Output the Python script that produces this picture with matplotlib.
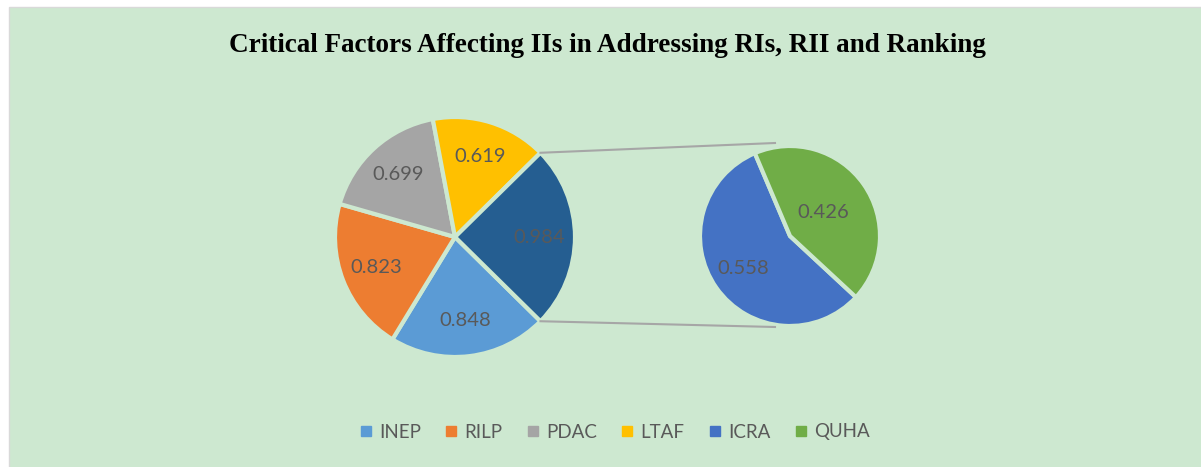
import matplotlib.pyplot as plt
from matplotlib.patches import Rectangle
from matplotlib.lines import Line2D
import numpy as np

# ── Data ──────────────────────────────────────────────────────────────────────
main_labels = ["INEP", "RILP", "PDAC", "LTAF"]
main_values = [0.848, 0.823, 0.699, 0.619]
sub_labels = ["ICRA", "QUHA"]
sub_values = [0.558, 0.426]
other_value = round(sum(sub_values), 3)  # 0.984

title = "Critical Factors Affecting IIs in Addressing RIs, RII and Ranking"

# ── Style ─────────────────────────────────────────────────────────────────────
bg = "#CDE8D0"
text_gray = "#595959"
main_colors = ["#5B9BD5", "#ED7D31", "#A5A5A5", "#FFC000"]
other_color = "#255E91"
sub_colors = ["#4472C4", "#70AD47"]

W, H = 1201, 467
fig = plt.figure(figsize=(W / 100, H / 100), dpi=100)
fig.patch.set_facecolor("white")
ax = fig.add_axes([0, 0, 1, 1])

# chart area background with thin frame top/left
ax.add_patch(Rectangle((9, -5), W, H - 7 + 5, facecolor=bg, edgecolor="#D9D9D9", lw=1.0))

# ── Main pie ──────────────────────────────────────────────────────────────────
main_c, main_r = (455, 230), 120
vals = main_values + [other_value]
total = sum(vals)
other_angle = other_value / total * 360
start = -other_angle / 2
wedges, _ = ax.pie(vals, colors=main_colors + [other_color], startangle=start,
                   counterclock=False, center=main_c, radius=main_r, frame=True,
                   wedgeprops=dict(edgecolor=bg, linewidth=3))
for w, v in zip(wedges, vals):
    mid = np.deg2rad((w.theta1 + w.theta2) / 2)
    d = 0.70 * main_r
    ax.text(main_c[0] + d * np.cos(mid), main_c[1] + d * np.sin(mid), f"{v:.3f}",
            ha="center", va="center", fontsize=14.5, color=text_gray, family="Lato")

# ── Secondary pie ─────────────────────────────────────────────────────────────
sub_c, sub_r = (790, 231), 90
sub_start = 113
sw, _ = ax.pie(sub_values, colors=sub_colors, startangle=sub_start, counterclock=True,
               center=sub_c, radius=sub_r, frame=True,
               wedgeprops=dict(edgecolor=bg, linewidth=3))
for w, v, d in zip(sw, sub_values, [0.63, 0.45]):
    mid = np.deg2rad((w.theta1 + w.theta2) / 2)
    ax.text(sub_c[0] + d * sub_r * np.cos(mid), sub_c[1] + d * sub_r * np.sin(mid),
            f"{v:.3f}", ha="center", va="center", fontsize=14.5, color=text_gray,
            family="Lato")

ax.set_xlim(0, W)
ax.set_ylim(0, H)
ax.set_aspect("auto")
ax.axis("off")

# ── Connector lines ───────────────────────────────────────────────────────────
a = np.deg2rad(other_angle / 2)
x0 = main_c[0] + main_r * np.cos(a)
ax.plot([x0, 775], [main_c[1] + main_r * np.sin(a), H - 143], color="#A6A6A6", lw=1.5)
ax.plot([x0, 775], [main_c[1] - main_r * np.sin(a), H - 327], color="#A6A6A6", lw=1.5)

# ── Title & legend ────────────────────────────────────────────────────────────
ax.text(607, H - 45, title, ha="center", va="center", fontsize=19.5, fontweight="bold",
        family="Liberation Serif", color="black")

handles = [Line2D([], [], marker="s", ls="", markersize=7, color=c)
           for c in main_colors + sub_colors]
leg = ax.legend(handles, main_labels + sub_labels, loc="center", ncol=6,
                bbox_to_anchor=(613 / W, 1 - 432 / H), frameon=False,
                prop=dict(family="Lato", size=13.5), labelcolor=text_gray,
                handletextpad=0.2, columnspacing=1.12, handlelength=1.0)

fig.savefig("out.png", dpi=100, facecolor=fig.get_facecolor())
